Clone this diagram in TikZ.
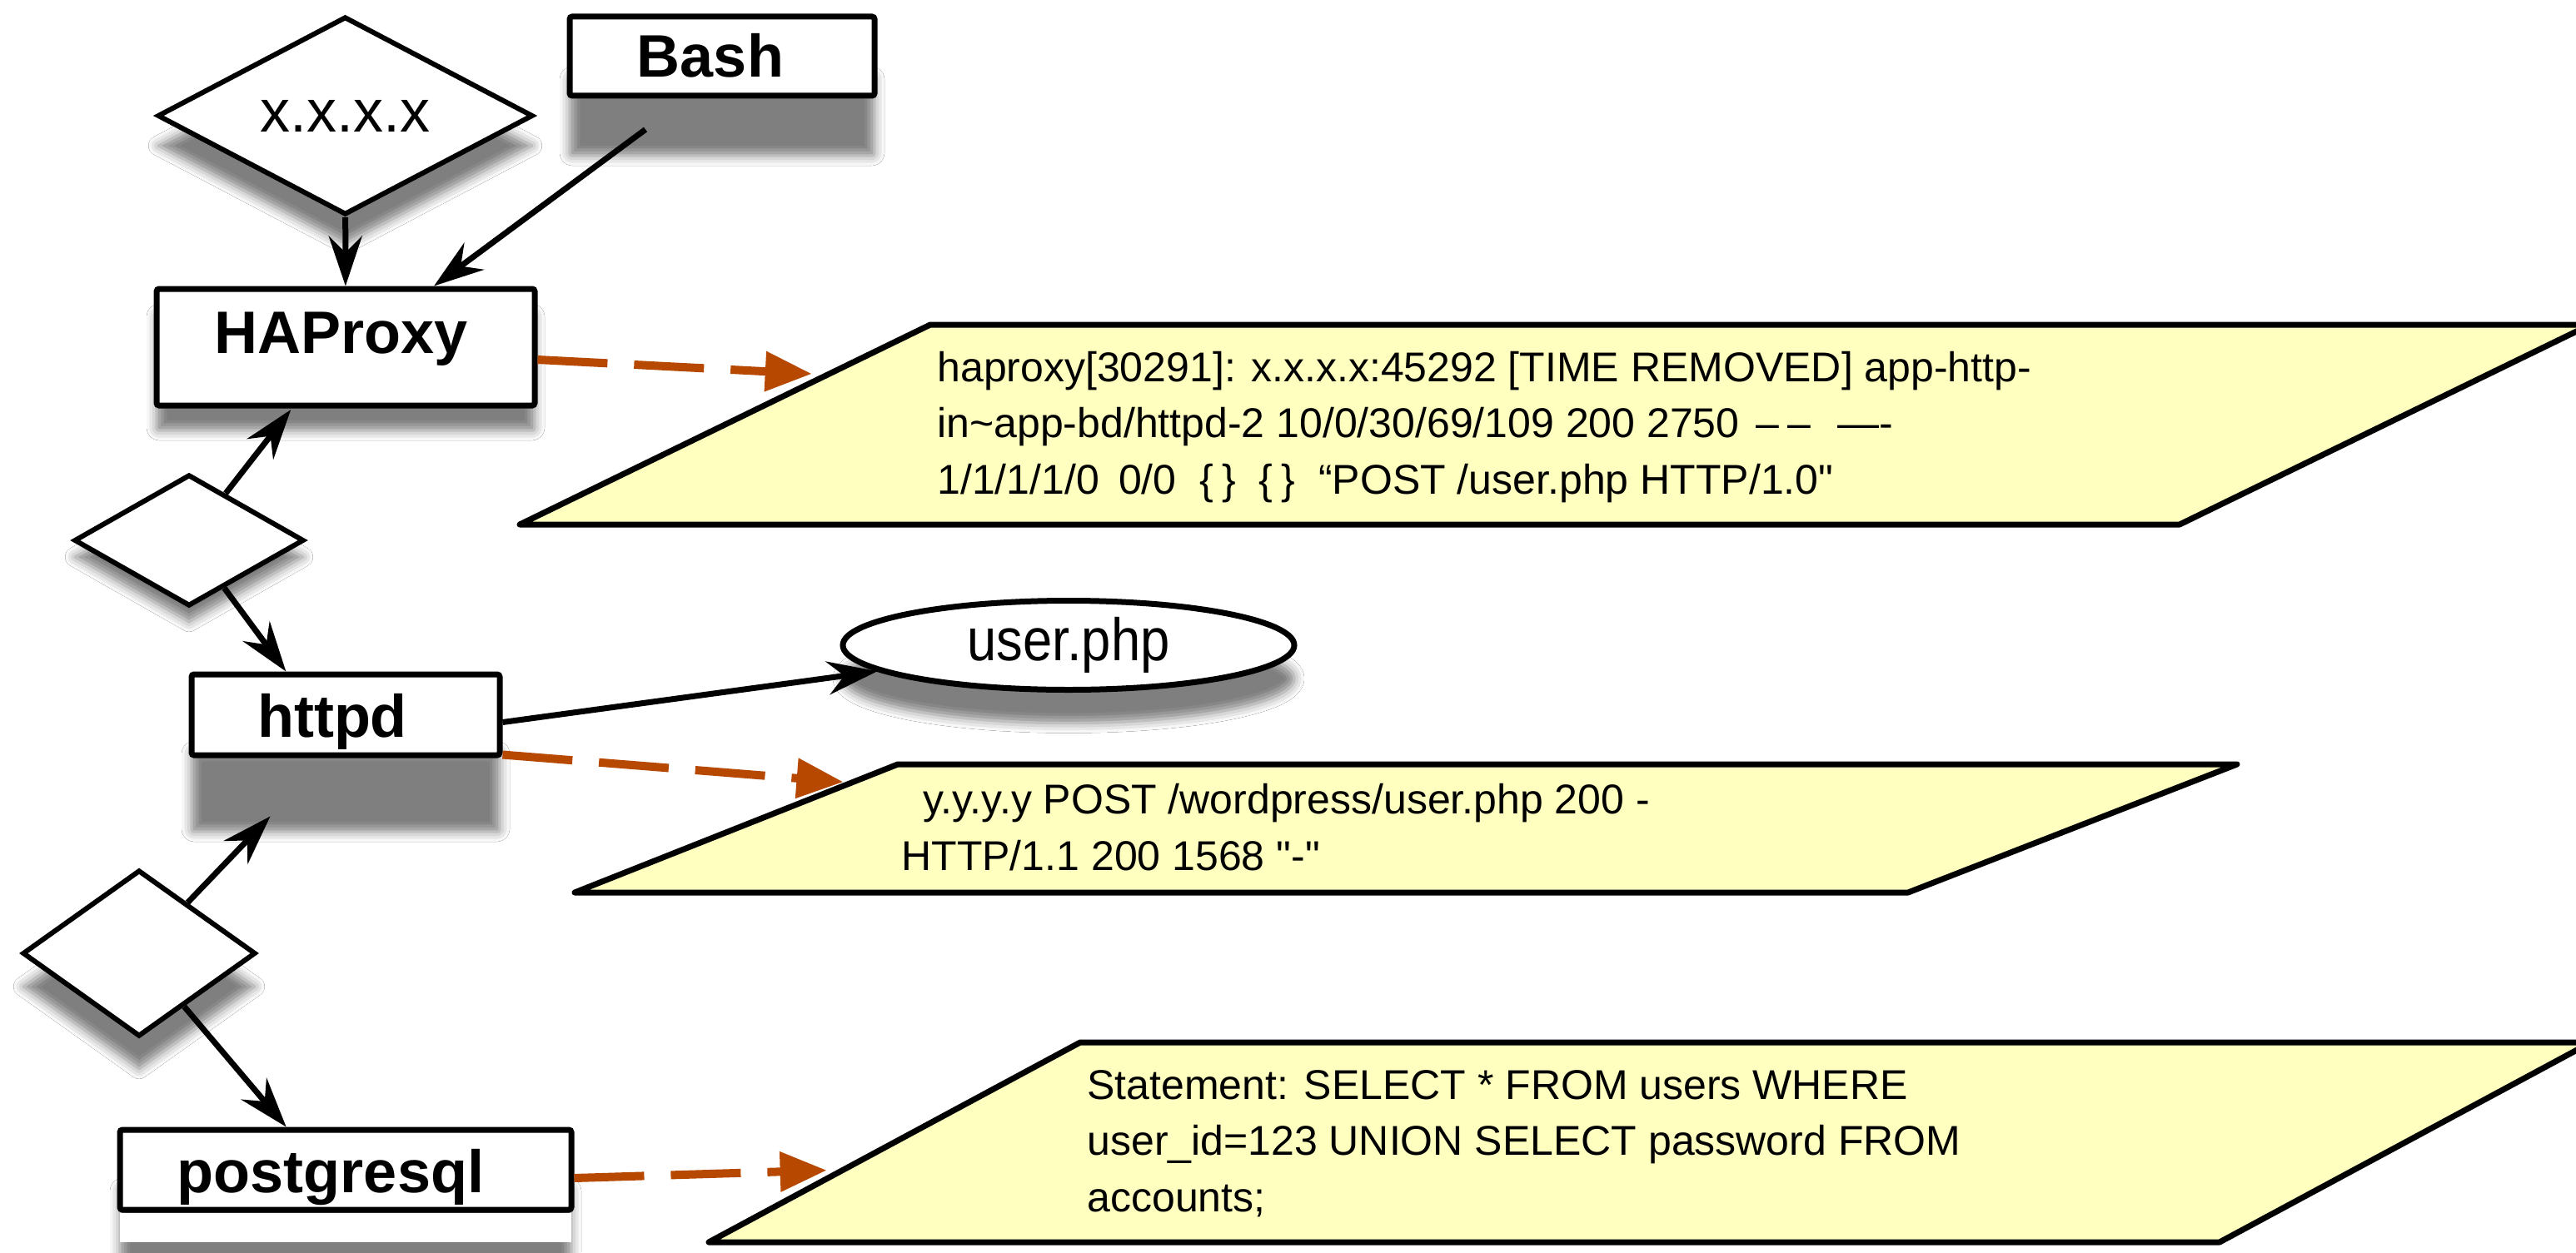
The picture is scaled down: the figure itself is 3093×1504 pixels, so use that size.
\documentclass[tikz,border=0pt]{standalone}
\usepackage{fontspec}
\setmainfont{Liberation Sans}[Ligatures=TeXOff]
\usepackage{graphicx}
\usetikzlibrary{shapes.geometric,shadows.blur,arrows.meta,calc}
\definecolor{logyellow}{RGB}{255,255,192}
\definecolor{rust}{RGB}{183,72,0}
\begin{document}
\begin{tikzpicture}[x=0.5pt,y=-0.5pt,
  box/.style={draw,line width=3.5pt,fill=white,rectangle,rounded corners=1.5pt,inner sep=0pt,
    font=\fontsize{36}{40}\selectfont\bfseries},
  dia/.style={draw,line width=3pt,fill=white,diamond,aspect=2,inner sep=0pt,
    font=\fontsize{36}{40}\selectfont},
  shad/.style={blur shadow={shadow xshift=0pt,shadow yshift=#1,shadow blur radius=6pt,shadow opacity=50}},
  arr/.style={line width=3.5pt,-{Stealth[length=30pt,width=20pt,inset=10pt]}},
  logarr/.style={rust,line width=5pt,dash pattern=on 42pt off 16pt,-{Triangle[length=28pt,width=23pt]}},
  logbox/.style={draw,line width=3.5pt,fill=logyellow,line join=round},
  logtext/.style={anchor=base west,inner sep=0pt,font=\fontsize{25}{30}\selectfont}]

\useasboundingbox (0,0) rectangle (3093,1504);
\fill[white] (0,0) rectangle (3093,1504);

% parallelograms (log entries)
\coordinate (p1bl) at (624,630);  \coordinate (p1tl) at (1117,390);
\coordinate (p1tr) at (3110,390); \coordinate (p1br) at (2617,630);
\draw[logbox] (p1bl) -- (p1tl) -- (p1tr) -- (p1br) -- cycle;

\coordinate (p2bl) at (690,1072);  \coordinate (p2tl) at (1078,918);
\coordinate (p2tr) at (2686,918);  \coordinate (p2br) at (2291,1072);
\draw[logbox] (p2bl) -- (p2tl) -- (p2tr) -- (p2br) -- cycle;

\coordinate (p3bl) at (851,1492);  \coordinate (p3tl) at (1297,1252);
\coordinate (p3tr) at (3111,1252); \coordinate (p3br) at (2665,1492);
\draw[logbox] (p3bl) -- (p3tl) -- (p3tr) -- (p3br) -- cycle;

\node[logtext] (l1a) at (1125,458) {haproxy[30291]: x.x.x.x:45292 [TIME REMOVED] app-http-};
\node[logtext] (l1b) at (1125,525) {in\textasciitilde app-bd/httpd-2 10/0/30/69/109 200 2750\hspace{10pt}–\hspace{5pt}–\hspace{16pt}—-};
\node[logtext] (l1c) at (1125,593) {1/1/1/1/0\hspace{11.5pt}0/0\hspace{14pt}\{\hspace{5pt}\}\hspace{14pt}\{\hspace{5pt}\}\hspace{14pt}“POST /user.php HTTP/1.0"};

\node[logtext] (l2a) at (1108,977) {y.y.y.y POST /wordpress/user.php 200 -};
\node[logtext] (l2b) at (1082,1045) {HTTP/1.1 200 1568 "-"};

\node[logtext] (l3a) at (1305,1320) {Statement: SELECT * FROM users WHERE};
\node[logtext] (l3b) at (1305,1387) {user\_id=123 UNION SELECT password FROM};
\node[logtext] (l3c) at (1305,1455) {accounts;};

% main nodes
\node[dia,shad=-18pt,minimum width=225.5pt,minimum height=119pt] (d1) at (414.5,139) {x.x.x.x};
\node[box,shad=-36pt,minimum width=183pt,minimum height=47.5pt,text height=25.5pt,text depth=0pt] (bash) at (867,67.5) {\kern-14pt Bash};
\node[box,shad=-15pt,minimum width=227pt,minimum height=70pt,text height=25pt,text depth=18pt] (haproxy) at (415,417) {\kern-5pt HAProxy};
\node[dia,shad=-10pt,minimum width=138pt,minimum height=79pt] (d2) at (227,649) {};
\node[box,shad=-46pt,minimum width=185pt,minimum height=48.5pt,text height=26.5pt,text depth=0pt] (httpd) at (415,858.5) {\kern-16pt httpd};
\node[draw,ellipse,line width=3.5pt,fill=white,inner sep=0pt,minimum width=271pt,minimum height=53.5pt,
  font=\fontsize{36}{40}\selectfont,shad=-20pt] (user) at (1283,775) {\scalebox{0.88}[1]{user.php}};
\node[dia,shad=-20pt,minimum width=140pt,minimum height=100pt] (d3) at (167,1145) {};
\node[box,shad=-35pt,minimum width=271pt,minimum height=48pt,text height=27pt,text depth=0pt] (pg) at (415,1405) {\kern-18pt postgresql};
\fill[white] ($(pg.south west)+(3.5,0)$) rectangle ($(pg.south east)+(-3.5,35)$);

% connectors
\coordinate (bashtail) at ($(bash.south)+(-92,37)$);
\draw[arr] (d1) -- (haproxy);
\draw[arr] (bashtail) -- ($(haproxy.north west)!0.73!(haproxy.north east)$);
\draw[arr,shorten >=1pt] (d2) -- ($(haproxy.south west)!0.36!(haproxy.south east)$);
\draw[arr] (d2) -- ($(httpd.north west)!0.31!(httpd.north east)$);
\coordinate (httpdshadow) at ($(httpd.south west)+(98,70)$);
\draw[arr] (d3) -- (httpdshadow);
\draw[arr] (d3) -- ($(pg.north west)!0.37!(pg.north east)$);
\draw[arr] ($(httpd.east)+(0,9)$) -- (user);

\draw[logarr,shorten >=9.5pt] ($(haproxy.east)+(0,15)$) -- ($(p1bl)!0.75!(p1tl)$);
\draw[logarr,shorten >=5pt] ($(httpd.south east)+(0,-4)$) -- ($(p2bl)!0.857!(p2tl)$);
\draw[logarr,shorten >=10pt] ($(pg.east)+(0,10)$) -- ($(p3bl)!0.3625!(p3tl)$);
\end{tikzpicture}
\end{document}
